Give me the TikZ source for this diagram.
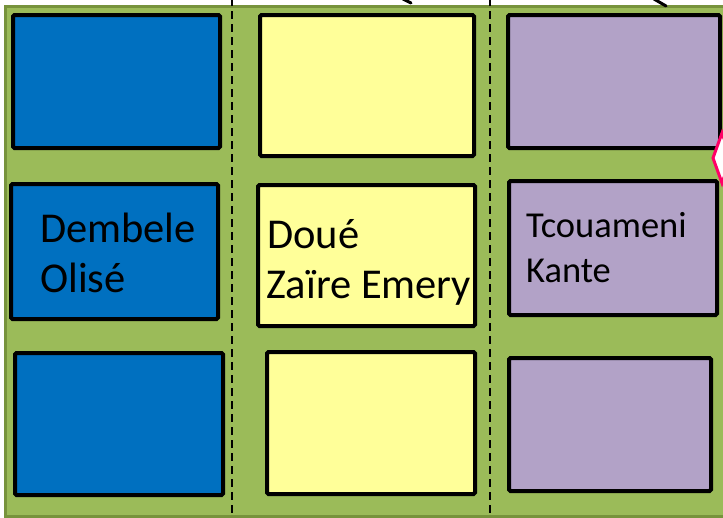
\documentclass[tikz,border=0pt]{standalone}
\usepackage{fontspec}
\setmainfont{Carlito}
\definecolor{pitch}{HTML}{9BBB59}
\definecolor{pitchdark}{HTML}{77933C}
\definecolor{bluebox}{HTML}{0070C0}
\definecolor{yellowbox}{HTML}{FFFF99}
\definecolor{purplebox}{HTML}{B2A2C7}
\definecolor{pinkmark}{HTML}{FF0066}
\tikzset{
  zonebox/.style={draw=black, line width=4pt, rounded corners=1.5pt, rectangle, inner sep=0pt},
  divider/.style={draw=black, line width=1.8pt, dash pattern=on 8pt off 5pt},
  label/.style={inner sep=0pt, anchor=base west, text=black},
  bigtext/.style={label, font=\fontsize{42.5}{50}\selectfont},
  midtext/.style={label, font=\fontsize{36.5}{45}\selectfont},
}
\begin{document}
\begin{tikzpicture}[x=1pt,y=-1pt]
\useasboundingbox (0,0) rectangle (723,517);
\clip (0,0) rectangle (723,517);
% pitch
\node[rectangle, fill=pitch, draw=pitchdark, line width=3pt, inner sep=0pt,
      minimum width=736pt, minimum height=510pt] (pitch) at (373,261) {};
% dividers
\coordinate (d1t) at (232,-2); \coordinate (d1b) at (232,520);
\coordinate (d2t) at (490,-2); \coordinate (d2b) at (490,520);
\draw[divider] (d1t) -- (d1b);
\draw[divider] (d2t) -- (d2b);
% row 1
\node[zonebox, fill=bluebox,   minimum width=207pt, minimum height=133pt] (b1) at (116.5,81.5) {};
\node[zonebox, fill=yellowbox, minimum width=214pt, minimum height=141pt] (y1) at (367,85.5) {};
\node[zonebox, fill=purplebox, minimum width=212pt, minimum height=133pt] (p1) at (614,81.5) {};
% row 2
\node[zonebox, fill=bluebox,   minimum width=207pt, minimum height=135pt] (b2) at (114.5,251.5) {};
\node[zonebox, fill=yellowbox, minimum width=217pt, minimum height=141pt] (y2) at (366.5,255.5) {};
\node[zonebox, fill=purplebox, minimum width=208pt, minimum height=134pt] (p2) at (613,248) {};
% row 3
\node[zonebox, fill=bluebox,   minimum width=208pt, minimum height=142pt] (b3) at (119,424) {};
\node[zonebox, fill=yellowbox, minimum width=208pt, minimum height=142pt] (y3) at (371,423) {};
\node[zonebox, fill=purplebox, minimum width=202pt, minimum height=133pt] (p3) at (610,424.5) {};
% texts
\node[bigtext] (t1) at (40,242) {Dembele};
\node[bigtext] (t2) at (40,292) {Olisé};
\node[bigtext] (t3) at (267,248) {Doué};
\node[bigtext] (t4) at (266,298) {Zaïre Emery};
\node[midtext] (t5) at (526,237) {Tcouameni};
\node[midtext] (t6) at (526,282) {Kante};
% pink marker at right edge
\draw[draw=pinkmark, fill=white, line width=3pt, line join=miter]
  (713,158) -- (722,133) -- (731,158) -- (722,183) -- cycle;
% fragments of arrows from above
\coordinate (a1s) at (403,-1); \coordinate (a1e) at (411,3);
\coordinate (a2s) at (654,-1); \coordinate (a2e) at (666,6);
\draw[line width=3pt, line cap=round] (a1s) -- (a1e);
\draw[line width=3pt, line cap=round] (a2s) -- (a2e);
\end{tikzpicture}
\end{document}
